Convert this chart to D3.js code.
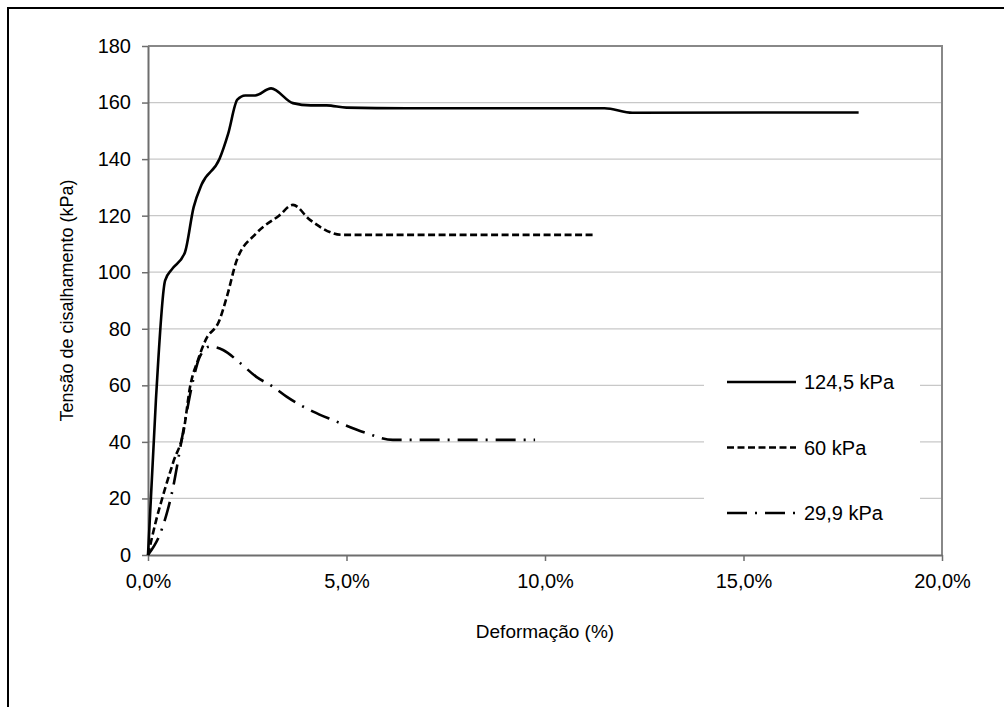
<!DOCTYPE html>
<html>
<head>
<meta charset="utf-8">
<script src="https://cdn.jsdelivr.net/npm/d3@7"></script>
<style>
  body { margin: 0; background: #fff; }
  text { font-family: "Liberation Sans", Arial, sans-serif; fill: #000; }
</style>
</head>
<body>
<script>
var width = 1004, height = 707

// data (deformation in %, shear stress in kPa)
var seriesNames = ["124,5 kPa", "60 kPa", "29,9 kPa"]
var def124 = [0, 0.2, 0.43, 0.6, 0.93, 1.15, 1.35, 1.8, 2.02, 2.25, 2.45, 2.7, 3.1, 3.65, 4.1, 4.5, 5.0, 6.5, 11.5, 12.2, 17.9]
var ten124 = [0, 55, 97, 101, 107, 123, 131, 140, 149, 161, 162.5, 162.5, 165, 159.8, 159, 159, 158.2, 158, 158, 156.4, 156.5]
var def60 = [0, 0.2, 0.42, 0.64, 0.9, 1.06, 1.26, 1.45, 1.8, 2.0, 2.23, 2.73, 3.3, 3.65, 4.08, 4.9, 6.5, 11.2]
var ten60 = [0, 12, 23, 33, 44, 59.5, 69, 76, 83, 92, 104, 113.8, 120, 123.8, 118.5, 113.2, 113.2, 113.2]
var def30 = [0, 0.34, 0.6, 0.89, 1.14, 1.3, 1.56, 1.89, 2.32, 2.73, 3.15, 3.49, 4.16, 4.66, 5.5, 6.17, 9.75]
var ten30 = [0, 8.8, 21.8, 44, 62, 70, 73.7, 72.5, 67.9, 63, 59.5, 56, 50.7, 47.7, 43.1, 40.7, 40.7]
var xTicks = [0, 5, 10, 15, 20]
var yTicks = [0, 20, 40, 60, 80, 100, 120, 140, 160, 180]

var dashes = [null, "7,3.5", "20,8,2,8"]
var fs = 20

var svg = d3.select("body").append("svg")
    .attr("width", width)
    .attr("height", height)

// outer chart frame (runs off the right and bottom)
svg.append("rect")
    .attr("x", 8).attr("y", 8)
    .attr("width", 1100).attr("height", 800)
    .attr("fill", "#fff")
    .attr("stroke", "#000")
    .attr("stroke-width", 2)

var pLeft = 148, pTop = 46, pRight = 942, pBottom = 555

var x = d3.scaleLinear().domain([0, 20]).range([pLeft, pRight])
var y = d3.scaleLinear().domain([0, 180]).range([pBottom, pTop])

// gridlines
svg.selectAll(".grid")
    .data(yTicks.slice(1))
  .enter().append("line")
    .attr("x1", pLeft).attr("x2", pRight)
    .attr("y1", function(d) { return y(d) }).attr("y2", function(d) { return y(d) })
    .attr("stroke", "#c8c8c8")
    .attr("stroke-width", 1.3)

// plot area border (top, right)
svg.append("path")
    .attr("d", "M" + pLeft + "," + pTop + "H" + pRight + "V" + pBottom)
    .attr("fill", "none")
    .attr("stroke", "#888")
    .attr("stroke-width", 2)

// axes
var xAxis = svg.append("g")
    .attr("transform", "translate(0," + pBottom + ")")
    .call(d3.axisBottom(x).tickValues(xTicks).tickSize(6).tickSizeOuter(0)
      .tickFormat(function(d) { return d.toFixed(1).replace(".", ",") + "%" }))
xAxis.select(".domain").attr("stroke", "#6e6e6e").attr("stroke-width", 2)
xAxis.selectAll(".tick line").attr("stroke", "#6e6e6e").attr("stroke-width", 1.5)
xAxis.selectAll(".tick text").attr("font-size", fs).attr("dy", "1.2em")

var yAxis = svg.append("g")
    .attr("transform", "translate(" + pLeft + ",0)")
    .call(d3.axisLeft(y).tickValues(yTicks).tickSize(6).tickSizeOuter(0))
yAxis.select(".domain").attr("stroke", "#6e6e6e").attr("stroke-width", 2)
yAxis.selectAll(".tick line").attr("stroke", "#6e6e6e").attr("stroke-width", 1.5)
yAxis.selectAll(".tick text").attr("font-size", fs).attr("x", -17)
svg.selectAll("g").attr("font-family", null)

// curves
var line = d3.line()
    .x(function(d) { return x(d[0]) })
    .y(function(d) { return y(d[1]) })
    .curve(d3.curveMonotoneX)

var series = [d3.zip(def124, ten124), d3.zip(def60, ten60), d3.zip(def30, ten30)]

svg.selectAll(".curve")
    .data(series)
  .enter().append("path")
    .attr("d", line)
    .attr("fill", "none")
    .attr("stroke", "#000")
    .attr("stroke-width", 2.6)
    .attr("stroke-dasharray", function(d, i) { return dashes[i] })

// legend
svg.append("rect")
    .attr("x", 704).attr("y", 342)
    .attr("width", 216).attr("height", 196)
    .attr("fill", "#fff")

var leg = svg.selectAll(".leg")
    .data(seriesNames)
  .enter().append("g")
    .attr("transform", function(d, i) { return "translate(727," + (382 + i * 65.5) + ")" })

leg.append("line")
    .attr("x1", 0).attr("x2", 69)
    .attr("stroke", "#000")
    .attr("stroke-width", 2.6)
    .attr("stroke-dasharray", function(d, i) { return dashes[i] })

leg.append("text")
    .attr("x", 77).attr("dy", "0.35em")
    .attr("font-size", fs)
    .text(function(d) { return d })

// axis titles
svg.append("text")
    .attr("x", (pLeft + pRight) / 2).attr("y", 638)
    .attr("text-anchor", "middle")
    .attr("font-size", 19)
    .text("Deformação (%)")

svg.append("text")
    .attr("transform", "translate(73," + (pTop + pBottom) / 2 + ") rotate(-90)")
    .attr("text-anchor", "middle")
    .attr("font-size", 18)
    .text("Tensão de cisalhamento (kPa)")
</script>
</body>
</html>
